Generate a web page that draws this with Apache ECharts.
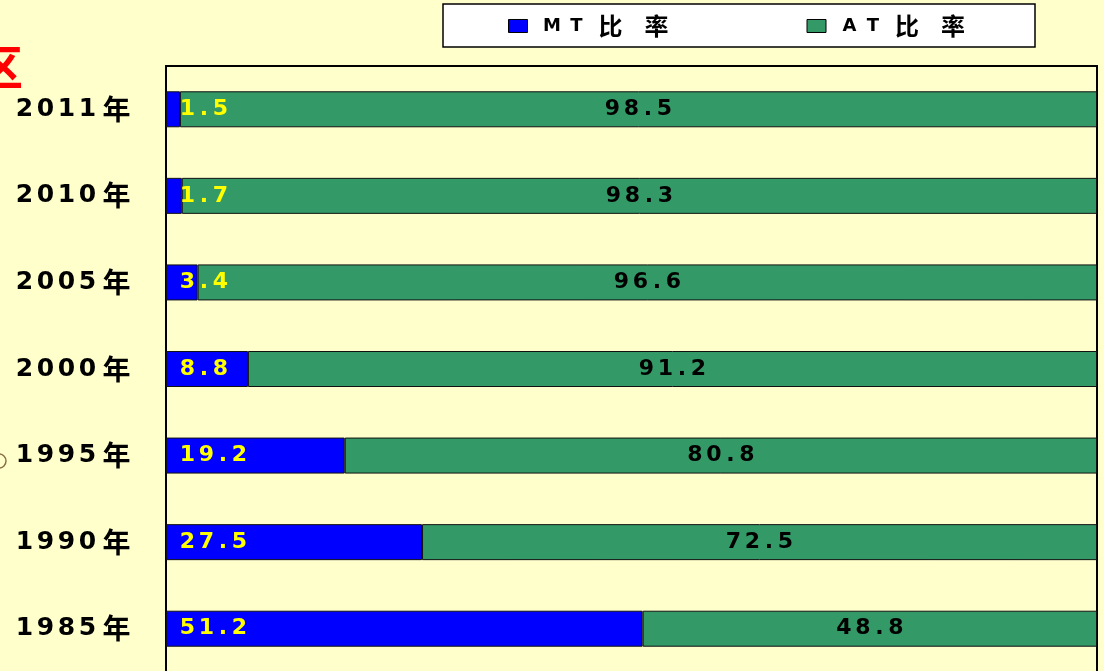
<!DOCTYPE html>
<html>
<head>
<meta charset="utf-8">
<title>MT / AT 比率</title>
<script src="https://cdn.jsdelivr.net/npm/echarts@6/dist/echarts.min.js"></script>
<style>
  html, body { margin: 0; padding: 0; background: #ffffcc; }
  #chart { width: 1104px; height: 671px; }
</style>
</head>
<body>
<div id="chart"></div>
<script>
  // 数据
  const years = ['1985年', '1990年', '1995年', '2000年', '2005年', '2010年', '2011年']
  const mtRate = [51.2, 27.5, 19.2, 8.8, 3.4, 1.7, 1.5]
  const atRate = [48.8, 72.5, 80.8, 91.2, 96.6, 98.3, 98.5]
  const seriesNames = ['MT比率', 'AT比率']

  const FONT = "'DejaVu Sans', 'Noto Sans CJK SC', sans-serif"
  const CJK = "'Noto Sans CJK SC', sans-serif"

  // 把每个字符包成固定宽度的 rich 片段，模拟原图的字间距
  const cellKey = ch => {
    if (/[0-9]/.test(ch)) return 'd'
    if (ch === '.') return 'p'
    if (ch === 'M') return 'm'
    if (ch === 'A') return 'a'
    if (ch === 'T') return 't'
    return 'c'
  }
  const spaced = str => str.split('').map(ch => `{${cellKey(ch)}|${ch}}`).join('')

  const cells = (sizes, extra, cjkExtra) => {
    const rich = {}
    Object.keys(sizes).forEach(k => {
      rich[k] = Object.assign({ width: sizes[k], align: 'center' }, extra, k === 'c' ? cjkExtra : {})
    })
    return rich
  }

  const chart = echarts.init(document.getElementById('chart'))

  chart.setOption({
    backgroundColor: '#ffffcc',
    animation: false,
    legend: {
      data: seriesNames,
      left: 443,
      top: 4,
      padding: [10, 59, 9, 65],
      backgroundColor: '#ffffff',
      borderColor: '#000000',
      borderWidth: 1.5,
      itemWidth: 19,
      itemHeight: 13,
      itemGap: 127,
      icon: 'rect',
      itemStyle: { borderColor: '#000000', borderWidth: 1 },
      formatter: name => spaced(name),
      textStyle: {
        fontFamily: FONT,
        fontSize: 18,
        fontWeight: 'bold',
        color: '#000000',
        padding: [0, 0, 0, 6],
        rich: cells(
          { m: 27, a: 25, t: 22, c: 46 },
          { fontFamily: FONT, fontSize: 18, fontWeight: 'bold', color: '#000', lineHeight: 22 },
          { fontFamily: CJK, fontSize: 24 }
        )
      }
    },
    grid: {
      left: 166,
      right: 7,
      top: 66,
      bottom: -1,
      outerBoundsMode: 'none',
      show: true,
      borderColor: '#000000',
      borderWidth: 2,
      backgroundColor: 'transparent'
    },
    xAxis: {
      type: 'value',
      min: 0,
      max: 100,
      show: false
    },
    yAxis: {
      type: 'category',
      data: years,
      axisTick: { show: false },
      axisLine: { show: false },
      splitLine: { show: false },
      axisLabel: {
        margin: 31,
        formatter: v => spaced(v),
        rich: cells(
          { d: 21, c: 37 },
          { fontFamily: FONT, fontSize: 25, fontWeight: 'bold', color: '#000' },
          { fontFamily: CJK, fontSize: 28 }
        )
      }
    },
    series: [
      {
        name: seriesNames[0],
        type: 'bar',
        stack: 'rate',
        barWidth: 36,
        data: mtRate,
        itemStyle: { color: '#0000ff', borderColor: '#111111', borderWidth: 1 },
        label: {
          show: true,
          position: 'insideLeft',
          distance: 12,
          formatter: p => spaced(String(p.value)),
          rich: cells({ d: 19, p: 14 }, { fontFamily: FONT, fontSize: 22, fontWeight: 'bold', color: '#ffff00' })
        }
      },
      {
        name: seriesNames[1],
        type: 'bar',
        stack: 'rate',
        barWidth: 36,
        data: atRate,
        itemStyle: { color: '#339966', borderColor: '#111111', borderWidth: 1 },
        label: {
          show: true,
          position: 'inside',
          formatter: p => spaced(String(p.value)),
          rich: cells({ d: 19, p: 14 }, { fontFamily: FONT, fontSize: 22, fontWeight: 'bold', color: '#000000' })
        }
      }
    ],
    graphic: [
      // 左上角被裁掉的标题字
      {
        type: 'text',
        left: -23,
        top: 44,
        style: {
          text: '区',
          fontFamily: CJK,
          fontSize: 46,
          fontWeight: 'bold',
          fill: '#ff0000'
        }
      },
      // 左侧残留的小弧线
      {
        type: 'arc',
        shape: { cx: -1, cy: 461, r: 7, startAngle: -Math.PI / 2, endAngle: Math.PI / 2 },
        style: { stroke: '#8b6f47', lineWidth: 1.5, fill: 'none' }
      }
    ]
  })
</script>
</body>
</html>
